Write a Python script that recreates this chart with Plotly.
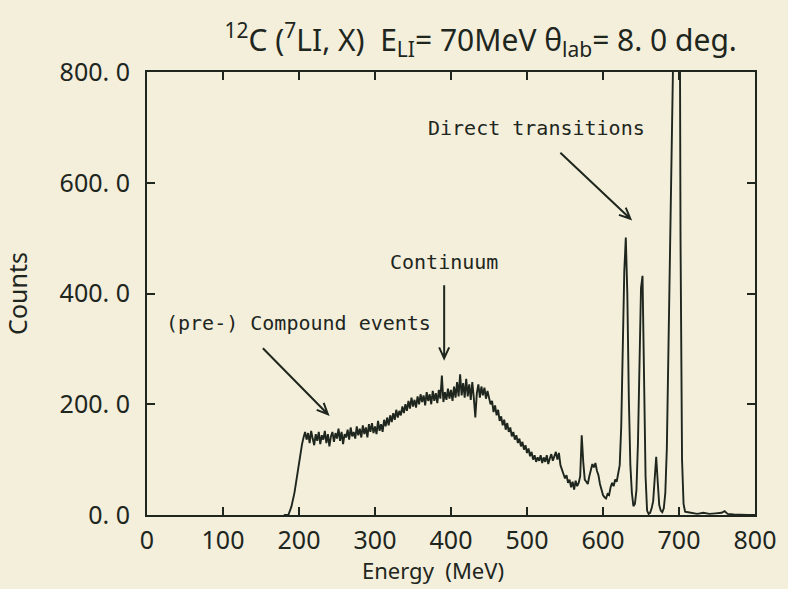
import plotly.graph_objects as go

# ---- data ----
# leading channels (MeV) and counts before the 2-MeV-binned main part
lead_energy = [180, 186, 190, 194, 198]
lead_counts = [0, 0, 15, 40, 75]

# main part: channels every 2 MeV starting at 200 MeV
main_start = 200
main_step = 2
main_counts = [
    95, 112, 128, 140, 150, 136, 148, 130, 152, 138,      # 200-218
    126, 146, 134, 150, 128, 144, 136, 152, 130, 146,     # 220-238
    124, 142, 150, 132, 148, 138, 156, 134, 150, 128,     # 240-258
    146, 140, 154, 136, 158, 142, 150, 138, 160, 144,     # 260-278
    156, 140, 162, 146, 158, 140, 164, 150, 166, 148,     # 280-298
    160, 146, 170, 152, 164, 150, 172, 160, 176, 162,     # 300-318
    180, 168, 184, 172, 190, 176, 188, 180, 196, 184,     # 320-338
    200, 188, 206, 192, 212, 196, 208, 194, 214, 200,     # 340-358
    218, 204, 216, 198, 222, 206, 218, 200, 224, 206,     # 360-378
    220, 202, 226, 210, 252, 204, 222, 208, 228, 210,     # 380-398
    226, 206, 232, 212, 240, 214, 254, 216, 238, 212,     # 400-418
    246, 214, 236, 208, 240, 212, 176, 220, 236, 212,     # 420-438
    232, 216, 230, 210, 224, 212, 200, 206, 186, 198,     # 440-458
    180, 190, 170, 178, 162, 172, 154, 166, 150, 158,     # 460-478
    142, 150, 136, 144, 130, 138, 124, 132, 118, 126,     # 480-498
    112, 120, 106, 114, 100, 108, 96, 104, 98, 108,       # 500-518
    94, 104, 96, 108, 92, 102, 110, 98, 106, 114,         # 520-538
    100, 112, 90, 80, 74, 66, 72, 58, 64, 50,             # 540-558
    60, 46, 62, 52, 58, 70, 144, 96, 64, 60,              # 560-578
    56, 70, 80, 92, 86, 94, 80, 72, 56, 44,               # 580-598
    36, 32, 30, 38, 36, 50, 58, 52, 64, 60,               # 600-618
    72, 90, 160, 300, 440, 501, 400, 210, 90, 40,         # 620-638
    16, 20, 45, 130, 300, 410, 432, 260, 70, 8,           # 640-658
    2, 4, 12, 25, 65, 105, 60, 18, 8, 5,                  # 660-678
    12, 40, 120, 300, 500, 700, 800, 1500, 2200, 2000,    # 680-698
    1400, 500, 100, 20, 6,                                # 700-708
]

tail_energy = [712, 718, 724, 732, 740, 748, 756, 760, 764, 772, 780, 790, 800]
tail_counts = [5, 3, 2, 4, 2, 3, 4, 7, 2, 1, 0, 0, 0]

x_ticks = [0, 100, 200, 300, 400, 500, 600, 700, 800]
y_ticks = [0, 200, 400, 600, 800]
y_tick_text = ["0. 0", "200. 0", "400. 0", "600. 0", "800. 0"]

labels = [
    # text, x, y (data), arrow tip (data), arrow tail offset in px (dx, dy up)
    ("Direct transitions", 513, 699, (636, 535), (-70, 66)),
    ("Continuum", 391, 456, (391, 283), (0, 73)),
    ("(pre-) Compound events", 199, 346, (238, 182), (-65, 66)),
]

energy = lead_energy + [main_start + main_step * i for i in range(len(main_counts))] + tail_energy
counts = lead_counts + main_counts + tail_counts

bg = "#f3efdb"
ink = "#1e261e"

fig = go.Figure()
fig.add_trace(go.Scatter(x=energy, y=counts, mode="lines",
                         line=dict(color=ink, width=1.9), hoverinfo="skip"))

shapes = []
annotations = []
for text, tx, ty, tip, tail in labels:
    annotations.append(dict(x=tx, y=ty, xref="x", yref="y", text=text, showarrow=False,
                            font=dict(family="DejaVu Sans Mono", size=20, color=ink)))
    dx, dy = tail
    L = (dx * dx + dy * dy) ** 0.5
    ux, uy = dx / L, dy / L
    h = 11
    px, py = -uy, ux
    a1 = (ux * h + px * h * 0.45, uy * h + py * h * 0.45)
    a2 = (ux * h - px * h * 0.45, uy * h - py * h * 0.45)
    path = (f"M {dx} {dy} L 0 0 M {a1[0]:.1f} {a1[1]:.1f} L 0 0 L {a2[0]:.1f} {a2[1]:.1f}")
    shapes.append(dict(type="path", xsizemode="pixel", ysizemode="pixel",
                       xanchor=tip[0], yanchor=tip[1], xref="x", yref="y",
                       path=path, line=dict(color=ink, width=2)))

annotations.append(dict(xref="paper", yref="paper", x=0.47, y=-0.163, xanchor="center",
                        yanchor="bottom", showarrow=False, text="Energy  (MeV)",
                        font=dict(family="Noto Sans", size=22, color=ink)))

fig.update_layout(
    width=788, height=589,
    margin=dict(l=147, r=23, t=72, b=74),
    paper_bgcolor=bg, plot_bgcolor=bg,
    showlegend=False,
    font=dict(family="Noto Sans", color=ink),
    title=dict(text="<sup>12</sup>C (<sup>7</sup>LI, X)  E<sub>LI</sub>= 70MeV θ<sub>lab</sub>= 8. 0 deg.",
               x=0.61, y=0.932, xref="container", yref="container",
               xanchor="center", yanchor="middle",
               font=dict(family="Noto Sans", size=30, color=ink)),
    shapes=shapes, annotations=annotations,
)
fig.update_xaxes(range=[0, 800], tickvals=x_ticks, ticks="inside", ticklen=8, tickwidth=2,
                 tickcolor=ink, showline=True, linecolor=ink, linewidth=2, mirror="allticks",
                 showgrid=False, zeroline=False, tickfont=dict(size=25, color=ink),
                 ticklabelstandoff=2)
fig.update_yaxes(range=[0, 800], tickvals=y_ticks, ticktext=y_tick_text, ticks="inside",
                 ticklen=8, tickwidth=2, tickcolor=ink, showline=True, linecolor=ink,
                 linewidth=2, mirror="allticks", showgrid=False, zeroline=False,
                 tickfont=dict(size=25, color=ink), ticklabelstandoff=10,
                 title=dict(text="Counts", font=dict(size=25, color=ink), standoff=26))

fig.write_html("out.html")
